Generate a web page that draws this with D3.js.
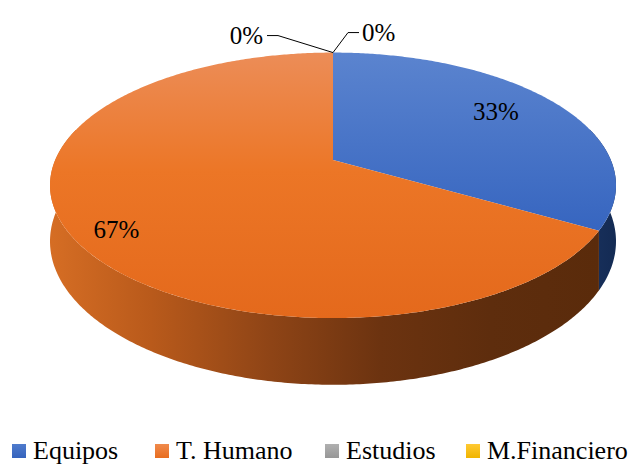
<!DOCTYPE html>
<html>
<head>
<meta charset="utf-8">
<script src="https://cdn.jsdelivr.net/npm/d3@7"></script>
<style>
  body { margin: 0; background: #fff; }
</style>
</head>
<body>
<svg id="chart" width="633" height="464"></svg>
<script>
// Budget split by item
const categories = ["Equipos", "T. Humano", "Estudios", "M.Financiero"];
const values = [1, 2, 0, 0];
const colors = ["#4472C4", "#ED7D31", "#A5A5A5", "#FFC000"];

const svg = d3.select("#chart");
const W = 633, H = 464;
const FONT = '"Liberation Serif"';

// Perspective disc: unit circle (u right, v toward viewer) projected to the page
const cx = 333;          // horizontal centre
const apexY = 160;       // projected centre of the disc
const sx = 277.8;        // horizontal scale
const sy = 97.4;         // depth scale
const persp = 0.1907;    // perspective strength
const depth = 54;        // thickness of the disc

function project(theta, r, dz) {
  const u = r * Math.sin(theta);
  const v = -r * Math.cos(theta);
  const w = 1 - persp * v;
  return [cx + sx * u / w, (sy * v + apexY) / w + (dz || 0) / w];
}

const pie = d3.pie().sort(null).value(d => d);
const arcs = pie(values);
const total = d3.sum(values);
const pct = d3.format(".0%");

const defs = svg.append("defs");

function linGrad(id, x1, y1, x2, y2, stops) {
  const g = defs.append("linearGradient").attr("id", id)
    .attr("gradientUnits", "userSpaceOnUse")
    .attr("x1", x1).attr("y1", y1).attr("x2", x2).attr("y2", y2);
  stops.forEach(s => g.append("stop").attr("offset", s[0]).attr("stop-color", s[1]));
}

// Top face shading (lighter toward the back)
linGrad("top0", 0, 52, 0, 318, [[0, "#5b84cf"], [0.7, "#3564bf"], [1, "#2f5cb5"]]);
linGrad("top1", 0, 52, 0, 318, [[0, "#ec8d58"], [0.45, "#ec7626"], [1, "#e4691c"]]);
linGrad("top2", 0, 52, 0, 318, [[0, "#b5b5b5"], [1, "#959595"]]);
linGrad("top3", 0, 52, 0, 318, [[0, "#ffcb33"], [1, "#f0b400"]]);
// Side wall shading (darker toward the right)
linGrad("side0", 560, 0, 620, 0, [[0, "#1d3666"], [1, "#132a52"]]);
linGrad("side1", 52, 0, 600, 0, [[0, "#d56d24"], [0.18, "#b95a1b"], [0.4, "#8e4416"], [0.6, "#6c3310"], [0.8, "#5e2d0d"], [1, "#5a2b0b"]]);
linGrad("side2", 52, 0, 600, 0, [[0, "#8a8a8a"], [1, "#3c3c3c"]]);
linGrad("side3", 52, 0, 600, 0, [[0, "#d9a300"], [1, "#5e4700"]]);
// Legend swatch shading
linGrad("key0", 0, 444, 0, 458, [[0, "#4f7bcc"], [1, "#3563bd"]]);
linGrad("key1", 0, 444, 0, 458, [[0, "#f08a4c"], [1, "#e86d1f"]]);
linGrad("key2", 0, 444, 0, 458, [[0, "#b0b0b0"], [1, "#979797"]]);
linGrad("key3", 0, 444, 0, 458, [[0, "#ffc933"], [1, "#f0b400"]]);

const line = d3.line();

function arcPoints(a0, a1, r, dz) {
  const n = Math.max(2, Math.ceil(Math.abs(a1 - a0) / 0.01));
  return d3.range(n + 1).map(i => project(a0 + (a1 - a0) * i / n, r, dz));
}

// Side walls, only along the front half of the rim
const visLo = Math.PI / 2 - 0.25, visHi = 3 * Math.PI / 2 + 0.25;
const sides = svg.append("g");
arcs.forEach((a, i) => {
  const s = Math.max(a.startAngle, visLo), e = Math.min(a.endAngle, visHi);
  if (e - s <= 0) return;
  const topEdge = arcPoints(s, e, 1, 0);
  const botEdge = arcPoints(e, s, 1, depth);
  sides.append("path")
    .attr("d", line(topEdge.concat(botEdge)) + "Z")
    .attr("fill", `url(#side${i})`);
});

// Top faces
const tops = svg.append("g");
arcs.forEach((a, i) => {
  if (a.endAngle - a.startAngle <= 0) return;
  const pts = [project(0, 0)].concat(arcPoints(a.startAngle, a.endAngle, 1, 0));
  tops.append("path")
    .attr("d", line(pts) + "Z")
    .attr("fill", `url(#top${i})`);
});

// Value labels inside the slices (radius, angular nudge in degrees)
const labelPlace = [[0.755, -3.1], [0.86, -4.7]];
const labels = svg.append("g");
arcs.forEach((a, i) => {
  if (a.value <= 0) return;
  const lp = labelPlace[i] || [0.8, 0];
  const mid = (a.startAngle + a.endAngle) / 2 + lp[1] * Math.PI / 180;
  const p = project(mid, lp[0], 0);
  labels.append("text")
    .attr("x", p[0]).attr("y", p[1] + 8.5)
    .attr("text-anchor", "middle")
    .style("font-family", FONT).style("font-size", "25px")
    .text(pct(a.value / total));
});

// Zero-value slices: labels outside with leader lines from the rim at 12 o'clock
const zeros = arcs.map((a, i) => ({ a, i })).filter(d => d.a.value === 0);
const rimTop = project(0, 1, 0);
const leaderLayouts = [
  { elbow: [-55, -17], end: [-66, -17], anchor: "end", tx: -70, ty: -9 },
  { elbow: [15, -20], end: [26, -20], anchor: "start", tx: 29, ty: -12 }
];
const leaders = svg.append("g");
zeros.forEach((d, k) => {
  const L = leaderLayouts[k % leaderLayouts.length];
  leaders.append("path")
    .attr("d", line([rimTop,
      [rimTop[0] + L.elbow[0], rimTop[1] + L.elbow[1]],
      [rimTop[0] + L.end[0], rimTop[1] + L.end[1]]]))
    .attr("fill", "none").attr("stroke", "#000").attr("stroke-width", 1);
  leaders.append("text")
    .attr("x", rimTop[0] + L.tx).attr("y", rimTop[1] + L.ty)
    .attr("text-anchor", L.anchor)
    .style("font-family", FONT).style("font-size", "25px")
    .text(pct(d.a.value / total));
});

// Legend along the bottom edge
const legendSlots = [12, 155, 325, 466];
const sw = 14, swGap = 7;
const legend = svg.append("g");
categories.forEach((c, i) => {
  const g = legend.append("g").attr("transform", `translate(${legendSlots[i]},0)`);
  g.append("rect").attr("width", sw).attr("height", sw).attr("y", 444)
    .attr("fill", `url(#key${i})`);
  g.append("text").attr("x", sw + swGap).attr("y", 459)
    .style("font-family", FONT).style("font-size", "26px")
    .text(c);
});
</script>
</body>
</html>
